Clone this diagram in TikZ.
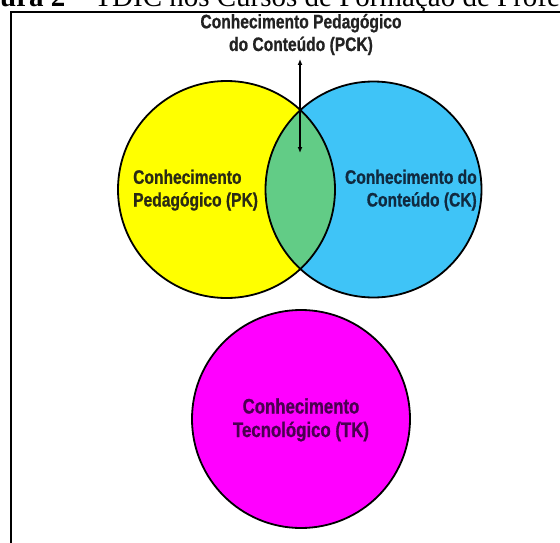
\documentclass[tikz,border=0pt]{standalone}
\usepackage{fontspec}
\usetikzlibrary{arrows.meta}
\newfontfamily\condfont[FakeStretch=0.8, FakeBold=0.8]{Liberation Sans}
\newfontfamily\capfont{Liberation Serif}
\definecolor{pkyellow}{HTML}{FFFF00}
\definecolor{ckblue}{HTML}{3FC4F7}
\definecolor{pckgreen}{HTML}{62CC86}
\definecolor{tkmagenta}{HTML}{FF00FF}
\definecolor{pktext}{HTML}{2A2A14}
\definecolor{cktext}{HTML}{102A40}
\definecolor{tktext}{HTML}{4A0050}
\definecolor{pcktext}{HTML}{222222}
\tikzset{
  circ/.style={circle, draw=black, line width=1.8pt, inner sep=0pt, minimum size=#1},
  lbl/.style={font=\condfont\bfseries\fontsize{19.5}{22.7}\selectfont, inner sep=0pt, anchor=base},
  link/.style={line width=1.3pt, {Latex[length=6pt,width=5pt]}-{Latex[length=6pt,width=5pt]}}
}
\begin{document}
\begin{tikzpicture}[x=1pt, y=-1pt]
\useasboundingbox (0,0) rectangle (560,543);
\fill[white] (0,0) rectangle (560,543);

% caption line, cut by the page edge
\node[anchor=base west, inner sep=0pt, font=\capfont\fontsize{29}{29}\selectfont] (cap) at (0,7)
  {\textbf{ura 2} – TDIC nos Cursos de Formação de Profe};

% frame
\draw[line width=2pt] (565,12.5) -- (11,12.5) -- (11,560);

% circle centres
\coordinate (pkc) at (226.5,189.5);
\coordinate (ckc) at (373.5,189.5);
\coordinate (tkc) at (301,419);

% filled discs
\fill[pkyellow] (pkc) circle[radius=108.5pt];
\fill[ckblue] (ckc) circle[radius=108pt];
\begin{scope}
  \clip (pkc) circle[radius=108.5pt];
  \fill[pckgreen] (ckc) circle[radius=108pt];
\end{scope}
\node[circ=217pt] (pk) at (pkc) {};
\node[circ=216pt] (ck) at (ckc) {};
\node[circ=218pt, fill=tkmagenta] (tk) at (tkc) {};

% labels (anchored on the baseline of their last line)
\node[lbl, text=pcktext, align=center] (pck) at (301,51)
  {Conhecimento Pedagógico\\do Conteúdo (PCK)};
\node[lbl, text=pktext, align=left, anchor=base west] (pkl) at (133,206.5)
  {Conhecimento\\Pedagógico (PK)};
\node[lbl, text=cktext, align=right, anchor=base east] (ckl) at (477,206.5)
  {Conhecimento do\\Conteúdo (CK)};
\node[lbl, text=tktext, align=center, font=\condfont\bfseries\fontsize{21}{23.5}\selectfont] (tkl) at (301,437)
  {Conhecimento\\Tecnológico (TK)};

% double arrow into the overlap
\coordinate (atop) at (300,59);
\coordinate (abot) at (300,153);
\draw[link] (atop) -- (abot);
\end{tikzpicture}
\end{document}
